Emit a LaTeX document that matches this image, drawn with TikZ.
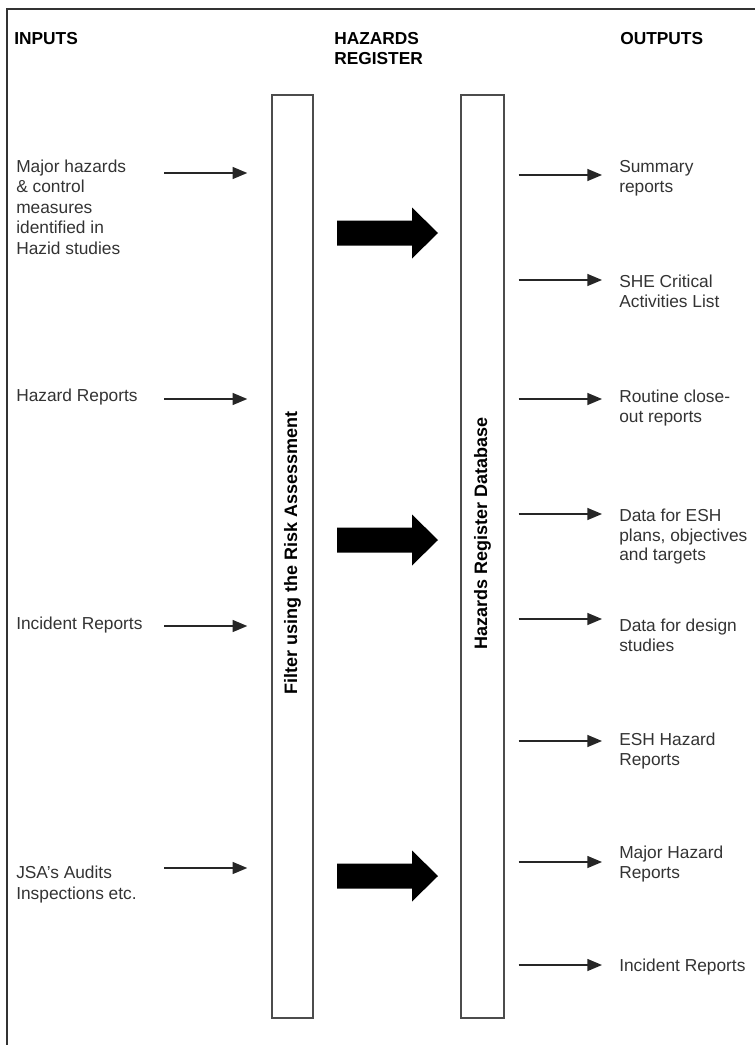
\documentclass[tikz,border=0pt]{standalone}
\usepackage{fontspec}
\setmainfont{Liberation Sans}
\usepackage{tikz}
\usetikzlibrary{arrows.meta}

\tikzset{
	heading/.style={anchor=north west, inner sep=0, align=left, font=\fontsize{13}{15}\selectfont\bfseries},
	intext/.style={anchor=north west, inner sep=0, align=left, text=black!80, font=\fontsize{13}{15.4}\selectfont},
	outtext/.style={anchor=north west, inner sep=0, align=left, text=black!80, font=\fontsize{13}{14.8}\selectfont},
	column/.style={draw=black!70, line width=1.1pt, minimum width=30.75pt, minimum height=692.25pt, inner sep=0},
	coltext/.style={rotate=90, inner sep=0, font=\fontsize{13.5}{16}\selectfont\bfseries},
	flow/.style={-{Triangle[length=11pt,width=9pt]}, line width=1pt, black!85},
	frame/.style={line width=1.5pt, black!80}
}

\begin{document}
\begin{tikzpicture}[x=0.75pt, y=-0.75pt]

	\useasboundingbox (0,0) rectangle (755,1045);
	\draw[frame] (7,1045) -- (7,9) -- (755,9);

	\node[heading] (inputs) at (14, 32)     {INPUTS};
	\node[heading] (hazreg) at (334, 32)     {HAZARDS\\REGISTER};
	\node[heading] (outputs) at (620, 32)     {OUTPUTS};

	\node[column] (filter) at (292.5, 556.5)     {};
	\node[column, minimum width=32.25pt] (register) at (482.5, 556.5)     {};
	\node[coltext] (filtertxt) at (292.5, 553)     {Filter using the Risk Assessment};
	\node[coltext] (registertxt) at (482.5, 533)     {Hazards Register Database};

	\node[intext] (hazid) at (16, 159.5)     {Major hazards\\\& control\\measures\\identified in\\Hazid studies};
	\node[intext] (hazrep) at (16, 389)     {Hazard Reports};
	\node[intext] (increp) at (16, 617)     {Incident Reports};
	\node[intext] (jsa) at (16, 866)     {JSA's Audits\\Inspections etc.};

	\coordinate (i1) at (164, 173);
	\coordinate (i2) at (164, 399);
	\coordinate (i3) at (164, 626);
	\coordinate (i4) at (164, 868);

	\draw[flow, shorten >=18pt] (i1) -- (i1 -| filter.west);
	\draw[flow, shorten >=18pt] (i2) -- (i2 -| filter.west);
	\draw[flow, shorten >=18pt] (i3) -- (i3 -| filter.west);
	\draw[flow, shorten >=18pt] (i4) -- (i4 -| filter.west);

	\fill (337,220.5) -- (412,220.5) -- (412,207.5) -- (438,233) -- (412,258.5) -- (412,245.5) -- (337,245.5) -- cycle;
	\fill (337,527.5) -- (412,527.5) -- (412,514.5) -- (438,540) -- (412,565.5) -- (412,552.5) -- (337,552.5) -- cycle;
	\fill (337,863.5) -- (412,863.5) -- (412,850.5) -- (438,876) -- (412,901.5) -- (412,888.5) -- (337,888.5) -- cycle;

	\node[outtext] (summary) at (619, 160.5)     {Summary\\reports};
	\node[outtext] (she) at (619, 274.5)     {SHE Critical\\Activities List};
	\node[outtext] (closeout) at (619, 389.5)     {Routine close-\\out reports};
	\node[outtext] (eshdata) at (619, 508.5)     {Data for ESH\\plans, objectives\\and targets};
	\node[outtext] (design) at (619, 618.5)     {Data for design\\studies};
	\node[outtext] (eshhaz) at (619, 732.5)     {ESH Hazard\\Reports};
	\node[outtext] (majhaz) at (619, 845.5)     {Major Hazard\\Reports};
	\node[outtext] (outinc) at (619, 958.5)     {Incident Reports};

	\coordinate (o1) at (602, 175);
	\coordinate (o2) at (602, 280);
	\coordinate (o3) at (602, 399);
	\coordinate (o4) at (602, 514);
	\coordinate (o5) at (602, 619);
	\coordinate (o6) at (602, 741);
	\coordinate (o7) at (602, 862);
	\coordinate (o8) at (602, 965);

	\draw[flow, shorten <=10.5pt] (o1 -| register.east) -- (o1);
	\draw[flow, shorten <=10.5pt] (o2 -| register.east) -- (o2);
	\draw[flow, shorten <=10.5pt] (o3 -| register.east) -- (o3);
	\draw[flow, shorten <=10.5pt] (o4 -| register.east) -- (o4);
	\draw[flow, shorten <=10.5pt] (o5 -| register.east) -- (o5);
	\draw[flow, shorten <=10.5pt] (o6 -| register.east) -- (o6);
	\draw[flow, shorten <=10.5pt] (o7 -| register.east) -- (o7);
	\draw[flow, shorten <=10.5pt] (o8 -| register.east) -- (o8);

\end{tikzpicture}
\end{document}
